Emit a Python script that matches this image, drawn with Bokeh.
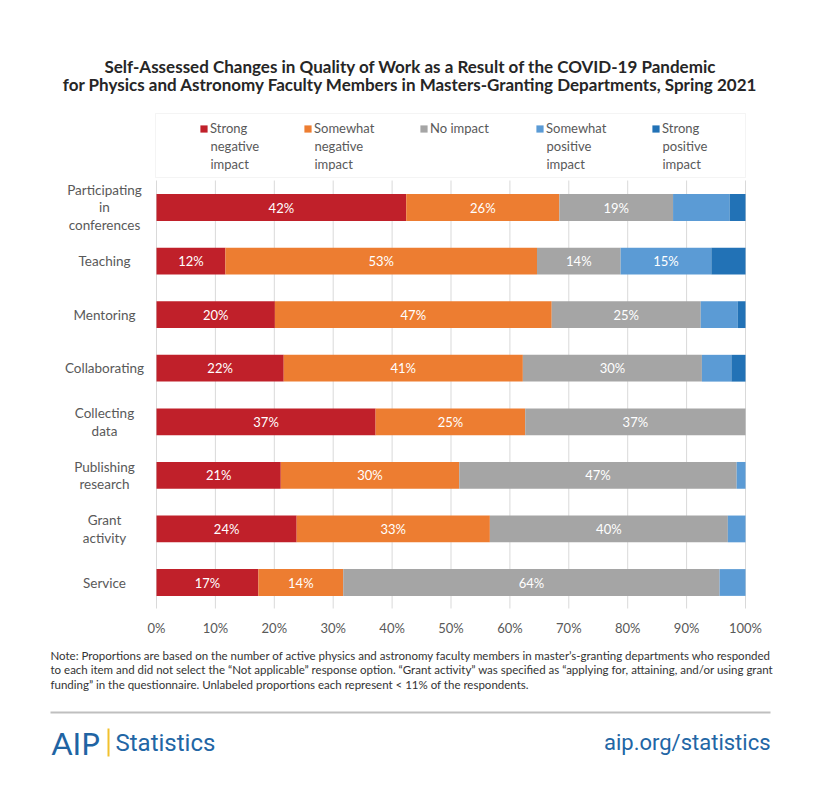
from bokeh.plotting import figure
from bokeh.models import ColumnDataSource, Label, BoxAnnotation, Range1d, Legend, LegendItem
from bokeh.embed import file_html
from bokeh.resources import INLINE
from bokeh.core.properties import value

# ---------------- data ----------------
categories = ["Participating\nin\nconferences", "Teaching", "Mentoring", "Collaborating",
              "Collecting\ndata", "Publishing\nresearch", "Grant\nactivity", "Service"]
strong_neg   = [42.4, 11.7, 20.1, 21.6, 37.2, 21.1, 23.8, 17.3]
somewhat_neg = [26.0, 52.9, 47.0, 40.6, 25.4, 30.3, 32.8, 14.4]
no_impact    = [19.3, 14.2, 25.3, 30.4, 37.4, 47.1, 40.4, 63.9]
somewhat_pos = [9.6, 15.4, 6.3, 5.0, 0.0, 1.5, 3.0, 4.4]
strong_pos   = [2.7, 5.8, 1.3, 2.4, 0.0, 0.0, 0.0, 0.0]
series_names = ["Strong\nnegative\nimpact", "Somewhat\nnegative\nimpact", "No impact",
                "Somewhat\npositive\nimpact", "Strong\npositive\nimpact"]
colors = ["#C0202A", "#ED7D31", "#A5A5A5", "#5B9BD5", "#2272B6"]
x_ticks = [0, 10, 20, 30, 40, 50, 60, 70, 80, 90, 100]
x_tick_labels = ["0%", "10%", "20%", "30%", "40%", "50%", "60%", "70%", "80%", "90%", "100%"]
label_threshold = 11

title_lines = ["Self-Assessed Changes in Quality of Work as a Result of the COVID-19 Pandemic",
               "for Physics and Astronomy Faculty Members in Masters-Granting Departments, Spring 2021"]
note_text = ("Note: Proportions are based on the number of active physics and astronomy faculty members in master\u2019s-granting departments who responded\n"
             "to each item and did not select the \u201cNot applicable\u201d response option. \u201cGrant activity\u201d was specified as \u201capplying for, attaining, and/or using grant\n"
             "funding\u201d in the questionnaire. Unlabeled proportions each represent < 11% of the respondents.")

FONT = "Lato"
TEXT_GREY = "#595959"

series = [strong_neg, somewhat_neg, no_impact, somewhat_pos, strong_pos]
n = len(categories)
ypos = [n - 1 - i for i in range(n)]
keys = ["s%d" % k for k in range(len(series))]
data = {"y": ypos}
for k, s in zip(keys, series):
    data[k] = s
src = ColumnDataSource(data)

W, H = 810, 780

# layout anchors (page pixels)
X0, X100 = 156, 745          # 0% and 100%
Y_TOP_CAT, Y_BOT_CAT = 207, 582  # centre of first / last category
PLOT_TOP, PLOT_BOT = 180, 608
pxx = (X100 - X0) / 100.0
pxy = (Y_BOT_CAT - Y_TOP_CAT) / float(n - 1)


def vy(Y):
    return (Y_BOT_CAT - Y) / pxy


def sy(Y):
    return H - Y


x_range = Range1d(-X0 / pxx, (W - X0) / pxx)
y_range = Range1d(vy(H), vy(0))

p = figure(width=W, height=H, x_range=x_range, y_range=y_range,
           output_backend="svg", toolbar_location=None,
           min_border=0, x_axis_location=None, y_axis_location=None)
p.outline_line_color = None
p.background_fill_color = "white"
p.border_fill_color = "white"
p.grid.visible = False

# gridlines
p.segment(x0=x_ticks, x1=x_ticks, y0=[vy(PLOT_BOT)] * len(x_ticks), y1=[vy(PLOT_TOP)] * len(x_ticks),
          line_color="#D9D9D9", line_width=1)

bars = p.hbar_stack(keys, y="y", height=0.5, fill_color=colors, line_color=None, source=src)

# value labels
lx, ly, lt = [], [], []
for i in range(n):
    left = 0.0
    for s in series:
        v = s[i]
        if v >= label_threshold:
            lx.append(left + v / 2.0)
            ly.append(ypos[i])
            lt.append("%d%%" % round(v))
        left += v
p.text(x="x", y="y", text="t", source=ColumnDataSource(dict(x=lx, y=ly, t=lt)),
       text_align="center", text_baseline="middle", text_color="white",
       text_font=value(FONT), text_font_size="13px")

# x tick labels
p.text(x=x_ticks, y=[vy(627)] * len(x_ticks), text=x_tick_labels,
       text_align="center", text_baseline="middle", text_color=TEXT_GREY,
       text_font=value(FONT), text_font_size="13px")

# category labels
for i, c in enumerate(categories):
    p.add_layout(Label(x=104, x_units="screen", y=ypos[i], y_units="data", text=c,
                       text_align="center", text_baseline="middle", text_font=FONT,
                       text_font_size="13.5px", text_color=TEXT_GREY, text_line_height=1.1))

# legend: one entry per series (first line in the legend entry, remaining lines below it)
LEG_XS = [199, 303, 419, 535, 651]
LEG_TXT_OFF = 11
for i, (s, r) in enumerate(zip(series_names, bars)):
    lines = s.split("\n")
    lg = Legend(items=[LegendItem(label=lines[0], renderers=[r])], orientation="horizontal",
                padding=0, margin=0, location=(LEG_XS[i], sy(136)), border_line_color=None,
                background_fill_alpha=0, glyph_width=9, glyph_height=9,
                label_standoff=LEG_TXT_OFF - 9, label_height=16,
                label_text_font=FONT, label_text_font_size="13px", label_text_color=TEXT_GREY)
    p.add_layout(lg, "center")
    for j, line in enumerate(lines[1:]):
        p.add_layout(Label(x=LEG_XS[i] + LEG_TXT_OFF, x_units="screen",
                           y=sy(128 + 17.8 * (j + 1)), y_units="screen", text=line,
                           text_align="left", text_baseline="middle", text_font=FONT,
                           text_font_size="13px", text_color=TEXT_GREY))

p.add_layout(BoxAnnotation(left=155, right=745, top=sy(113), bottom=sy(177),
                           left_units="screen", right_units="screen", top_units="screen",
                           bottom_units="screen", fill_alpha=0, line_color="#D9D9D9",
                           line_width=1, level="overlay"))

# title
for t, yy in zip(title_lines, [66, 84]):
    p.add_layout(Label(x=410, x_units="screen", y=sy(yy), y_units="screen", text=t,
                       text_align="center", text_baseline="middle", text_font=FONT,
                       text_font_style="bold", text_font_size="17px", text_color="#262626"))

# note
p.add_layout(Label(x=50, x_units="screen", y=sy(648), y_units="screen", text=note_text,
                   text_align="left", text_baseline="top", text_font=FONT,
                   text_font_size="11.5px", text_color="#333333", text_line_height=1.12))

# footer rule
p.add_layout(BoxAnnotation(left=50, right=770, top=sy(711), bottom=sy(713),
                           left_units="screen", right_units="screen", top_units="screen",
                           bottom_units="screen", fill_color="#BFBFBF", fill_alpha=1,
                           line_color=None, level="overlay"))
# logo
p.add_layout(Label(x=51, x_units="screen", y=sy(742), y_units="screen", text="AIP",
                   text_align="left", text_baseline="middle", text_font="Lato",
                   text_font_size="31px", text_color="#1F64A3"))
p.add_layout(BoxAnnotation(left=107, right=109, top=sy(728), bottom=sy(756),
                           left_units="screen", right_units="screen", top_units="screen",
                           bottom_units="screen", fill_color="#F2C12E", fill_alpha=1,
                           line_color=None, level="overlay"))
p.add_layout(Label(x=115, x_units="screen", y=sy(742), y_units="screen", text="Statistics",
                   text_align="left", text_baseline="middle", text_font="Roboto",
                   text_font_size="24px", text_color="#2266A5"))
p.add_layout(Label(x=770, x_units="screen", y=sy(742), y_units="screen",
                   text="aip.org/statistics", text_align="right", text_baseline="middle",
                   text_font="Roboto", text_font_size="22px", text_color="#2266A5"))

open("out.html", "w").write(file_html(p, INLINE))
